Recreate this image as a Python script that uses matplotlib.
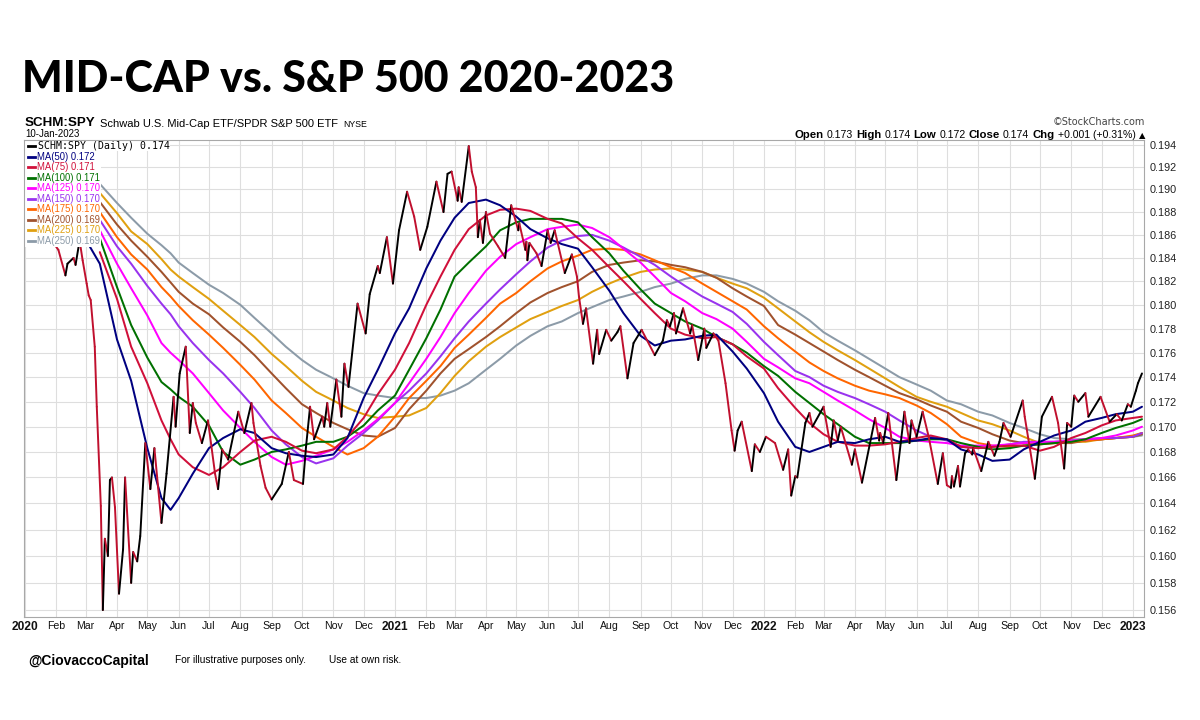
import numpy as np
import pandas as pd
import matplotlib
matplotlib.use("Agg")
import matplotlib.pyplot as plt
import matplotlib.dates as mdates
from matplotlib.collections import LineCollection
from matplotlib.lines import Line2D
from matplotlib.patches import Rectangle
from matplotlib.ticker import FixedLocator, NullLocator

plt.rcParams['font.family'] = ['Liberation Sans', 'DejaVu Sans']

# ---------------- data ----------------
title_text = "MID-CAP vs. S&P 500 2020-2023"
symbol = "SCHM:SPY"
symbol_desc = "Schwab U.S. Mid-Cap ETF/SPDR S&P 500 ETF"
exchange = "NYSE"
last_date = "10-Jan-2023"
quote_parts = [("Open", True), ("0.173", False), ("High", True), ("0.174", False),
               ("Low", True), ("0.172", False), ("Close", True), ("0.174", False),
               ("Chg", True), ("+0.001 (+0.31%)", False), ("\u25B2", False)]

price_dates = [
    "2020-01-29", "2020-02-03", "2020-02-10", "2020-02-12", "2020-02-18", "2020-02-20",
    "2020-02-24", "2020-02-27", "2020-03-02", "2020-03-04", "2020-03-06", "2020-03-10",
    "2020-03-12", "2020-03-16", "2020-03-18", "2020-03-20", "2020-03-23", "2020-03-25",
    "2020-03-27", "2020-03-30", "2020-04-03", "2020-04-07", "2020-04-09", "2020-04-15",
    "2020-04-17", "2020-04-21", "2020-04-24", "2020-04-29", "2020-05-04", "2020-05-08",
    "2020-05-15", "2020-05-20", "2020-05-27", "2020-05-29", "2020-06-02", "2020-06-08",
    "2020-06-12", "2020-06-15", "2020-06-18", "2020-06-24", "2020-06-30", "2020-07-07",
    "2020-07-10", "2020-07-14", "2020-07-20", "2020-07-30", "2020-08-05", "2020-08-12",
    "2020-08-14", "2020-08-21", "2020-08-26", "2020-09-01", "2020-09-11", "2020-09-18",
    "2020-09-23", "2020-10-02", "2020-10-05", "2020-10-09", "2020-10-13", "2020-10-21",
    "2020-10-23", "2020-10-26", "2020-10-29", "2020-11-04", "2020-11-09", "2020-11-12",
    "2020-11-16", "2020-11-25", "2020-12-03", "2020-12-07", "2020-12-15", "2020-12-17",
    "2020-12-24", "2020-12-30", "2021-01-05", "2021-01-13", "2021-01-20", "2021-01-26",
    "2021-02-02", "2021-02-11", "2021-02-18", "2021-02-22", "2021-02-26", "2021-03-04",
    "2021-03-05", "2021-03-08", "2021-03-15", "2021-03-18", "2021-03-22", "2021-03-24",
    "2021-03-26", "2021-03-29", "2021-04-01", "2021-04-05", "2021-04-13", "2021-04-20",
    "2021-04-26", "2021-05-03", "2021-05-04", "2021-05-10", "2021-05-11", "2021-05-12",
    "2021-05-14", "2021-05-21", "2021-05-26", "2021-06-01", "2021-06-04", "2021-06-08",
    "2021-06-18", "2021-06-25", "2021-06-30", "2021-07-02", "2021-07-06", "2021-07-09",
    "2021-07-16", "2021-07-20", "2021-07-22", "2021-07-29", "2021-08-03", "2021-08-09",
    "2021-08-12", "2021-08-19", "2021-08-25", "2021-09-02", "2021-09-15", "2021-09-23",
    "2021-09-27", "2021-09-30", "2021-10-04", "2021-10-06", "2021-10-13", "2021-10-20",
    "2021-10-22", "2021-10-28", "2021-11-03", "2021-11-05", "2021-11-12", "2021-11-17",
    "2021-11-24", "2021-11-30", "2021-12-03", "2021-12-06", "2021-12-10", "2021-12-20",
    "2021-12-23", "2021-12-28", "2022-01-03", "2022-01-12", "2022-01-20", "2022-01-25",
    "2022-01-28", "2022-02-01", "2022-02-03", "2022-02-11", "2022-02-15", "2022-02-18",
    "2022-03-01", "2022-03-08", "2022-03-11", "2022-03-15", "2022-03-18", "2022-03-29",
    "2022-04-01", "2022-04-08", "2022-04-21", "2022-04-25", "2022-04-26", "2022-04-29",
    "2022-05-04", "2022-05-12", "2022-05-20", "2022-05-25", "2022-05-27", "2022-06-01",
    "2022-06-07", "2022-06-13", "2022-06-22", "2022-06-27", "2022-07-01", "2022-07-05",
    "2022-07-06", "2022-07-08", "2022-07-12", "2022-07-14", "2022-07-19", "2022-07-22",
    "2022-07-26", "2022-07-27", "2022-08-04", "2022-08-11", "2022-08-17", "2022-08-22",
    "2022-08-26", "2022-09-02", "2022-09-14", "2022-09-16", "2022-09-26", "2022-10-03",
    "2022-10-13", "2022-10-19", "2022-10-25", "2022-10-28", "2022-11-01", "2022-11-04",
    "2022-11-08", "2022-11-15", "2022-11-18", "2022-11-30", "2022-12-09", "2022-12-16",
    "2022-12-21", "2022-12-27", "2022-12-30", "2023-01-04", "2023-01-06", "2023-01-10",
]
price_values = [
    0.1853, 0.1847, 0.1825, 0.1835, 0.1840, 0.1834,
    0.1855, 0.1838, 0.1818, 0.1808, 0.1804, 0.1765,
    0.1716, 0.1638, 0.1560, 0.1613, 0.1600, 0.1658,
    0.1660, 0.1637, 0.1572, 0.1605, 0.1660, 0.1580,
    0.1603, 0.1596, 0.1615, 0.1687, 0.1651, 0.1683,
    0.1625, 0.1663, 0.1724, 0.1700, 0.1743, 0.1765,
    0.1695, 0.1719, 0.1703, 0.1687, 0.1705, 0.1663,
    0.1651, 0.1682, 0.1674, 0.1712, 0.1695, 0.1719,
    0.1703, 0.1669, 0.1652, 0.1643, 0.1655, 0.1680,
    0.1658, 0.1655, 0.1684, 0.1716, 0.1690, 0.1708,
    0.1700, 0.1719, 0.1700, 0.1738, 0.1708, 0.1751,
    0.1732, 0.1801, 0.1776, 0.1809, 0.1833, 0.1827,
    0.1858, 0.1818, 0.1864, 0.1898, 0.1876, 0.1847,
    0.1867, 0.1907, 0.1880, 0.1914, 0.1916, 0.1890,
    0.1902, 0.1889, 0.1939, 0.1916, 0.1902, 0.1858,
    0.1873, 0.1853, 0.1880, 0.1861, 0.1850, 0.1840,
    0.1886, 0.1864, 0.1870, 0.1847, 0.1854, 0.1838,
    0.1853, 0.1844, 0.1833, 0.1864, 0.1853, 0.1864,
    0.1827, 0.1843, 0.1824, 0.1807, 0.1784, 0.1797,
    0.1751, 0.1779, 0.1759, 0.1779, 0.1770, 0.1777,
    0.1782, 0.1739, 0.1768, 0.1779, 0.1758, 0.1770,
    0.1787, 0.1782, 0.1793, 0.1776, 0.1797, 0.1776,
    0.1783, 0.1754, 0.1780, 0.1764, 0.1776, 0.1770,
    0.1735, 0.1697, 0.1681, 0.1697, 0.1704, 0.1665,
    0.1686, 0.1680, 0.1692, 0.1687, 0.1666, 0.1682,
    0.1646, 0.1661, 0.1660, 0.1703, 0.1711, 0.1700,
    0.1716, 0.1684, 0.1705, 0.1689, 0.1700, 0.1670,
    0.1682, 0.1656, 0.1707, 0.1689, 0.1695, 0.1687,
    0.1711, 0.1658, 0.1712, 0.1687, 0.1705, 0.1692,
    0.1712, 0.1692, 0.1655, 0.1679, 0.1654, 0.1652,
    0.1661, 0.1653, 0.1669, 0.1653, 0.1679, 0.1682,
    0.1678, 0.1683, 0.1665, 0.1688, 0.1677, 0.1688,
    0.1703, 0.1692, 0.1721, 0.1708, 0.1659, 0.1708,
    0.1724, 0.1703, 0.1667, 0.1703, 0.1700, 0.1725,
    0.1720, 0.1727, 0.1708, 0.1724, 0.1704, 0.1710,
    0.1705, 0.1718, 0.1716, 0.1729, 0.1735, 0.1743,
]

ma_dates = [
    "2020-03-01", "2020-03-15", "2020-04-01", "2020-04-15", "2020-05-01", "2020-05-15",
    "2020-05-24", "2020-06-01", "2020-06-15", "2020-07-01", "2020-07-15", "2020-08-01",
    "2020-08-15", "2020-09-01", "2020-09-15", "2020-10-01", "2020-10-15", "2020-11-01",
    "2020-11-15", "2020-12-01", "2020-12-15", "2021-01-01", "2021-01-15", "2021-02-01",
    "2021-02-15", "2021-03-01", "2021-03-15", "2021-04-01", "2021-04-15", "2021-05-01",
    "2021-05-15", "2021-06-01", "2021-06-15", "2021-07-01", "2021-07-15", "2021-08-01",
    "2021-08-15", "2021-09-01", "2021-09-15", "2021-10-01", "2021-10-15", "2021-11-01",
    "2021-11-15", "2021-12-01", "2021-12-15", "2022-01-01", "2022-01-15", "2022-02-01",
    "2022-02-15", "2022-03-01", "2022-03-15", "2022-04-01", "2022-04-15", "2022-05-01",
    "2022-05-15", "2022-06-01", "2022-06-15", "2022-07-01", "2022-07-15", "2022-08-01",
    "2022-08-15", "2022-09-01", "2022-09-15", "2022-10-01", "2022-10-15", "2022-11-01",
    "2022-11-15", "2022-12-01", "2022-12-15", "2023-01-01", "2023-01-10",
]
nan = float("nan")
ma50 = [0.1856, 0.1835, 0.1771, 0.1737, 0.1683, 0.1644,
        0.1635, 0.1644, 0.1663, 0.1683, 0.1691, 0.1698,
        0.1695, 0.1683, 0.1679, 0.1677, 0.1676, 0.1678,
        0.1691, 0.1723, 0.1746, 0.1776, 0.1797, 0.1831,
        0.1855, 0.1875, 0.1888, 0.1891, 0.1886, 0.1876,
        0.1865, 0.1857, 0.1852, 0.1848, 0.1832, 0.1812,
        0.1793, 0.1774, 0.1766, 0.1770, 0.1771, 0.1774,
        0.1775, 0.1761, 0.1747, 0.1727, 0.1704, 0.1684,
        0.1680, 0.1684, 0.1688, 0.1687, 0.1690, 0.1692,
        0.1688, 0.1689, 0.1691, 0.1690, 0.1682, 0.1678,
        0.1673, 0.1674, 0.1682, 0.1688, 0.1693, 0.1697,
        0.1704, 0.1707, 0.1710, 0.1712, 0.1716]
ma75 = [nan, 0.1845, 0.1805, 0.1765, 0.1735, 0.1705,
        0.1690, 0.1678, 0.1668, 0.1662, 0.1668, 0.1680,
        0.1689, 0.1692, 0.1688, 0.1681, 0.1679, 0.1682,
        0.1692, 0.1707, 0.1726, 0.1746, 0.1768, 0.1800,
        0.1824, 0.1847, 0.1865, 0.1877, 0.1882, 0.1883,
        0.1881, 0.1874, 0.1870, 0.1857, 0.1847, 0.1832,
        0.1820, 0.1805, 0.1793, 0.1780, 0.1775, 0.1772,
        0.1773, 0.1767, 0.1757, 0.1747, 0.1731, 0.1715,
        0.1703, 0.1694, 0.1688, 0.1685, 0.1685, 0.1686,
        0.1688, 0.1691, 0.1693, 0.1690, 0.1684, 0.1683,
        0.1684, 0.1685, 0.1685, 0.1681, 0.1684, 0.1691,
        0.1695, 0.1701, 0.1705, 0.1707, 0.1708]
ma100 = [nan, 0.1857, 0.1815, 0.1783, 0.1756, 0.1736,
         0.1730, 0.1724, 0.1716, 0.1701, 0.1680, 0.1670,
         0.1674, 0.1680, 0.1682, 0.1685, 0.1688, 0.1688,
         0.1692, 0.1701, 0.1713, 0.1725, 0.1746, 0.1772,
         0.1796, 0.1824, 0.1836, 0.1850, 0.1864, 0.1871,
         0.1874, 0.1874, 0.1874, 0.1871, 0.1858, 0.1844,
         0.1829, 0.1813, 0.1801, 0.1793, 0.1786, 0.1780,
         0.1773, 0.1767, 0.1760, 0.1749, 0.1741, 0.1728,
         0.1719, 0.1710, 0.1702, 0.1692, 0.1687, 0.1687,
         0.1687, 0.1689, 0.1690, 0.1690, 0.1687, 0.1684,
         0.1682, 0.1683, 0.1685, 0.1686, 0.1687, 0.1688,
         0.1690, 0.1695, 0.1699, 0.1703, 0.1706]
ma125 = [nan, 0.1864, 0.1835, 0.1814, 0.1791, 0.1768,
         0.1760, 0.1754, 0.1743, 0.1727, 0.1713, 0.1699,
         0.1688, 0.1676, 0.1670, 0.1673, 0.1677, 0.1682,
         0.1688, 0.1697, 0.1706, 0.1719, 0.1735, 0.1755,
         0.1773, 0.1793, 0.1810, 0.1829, 0.1841, 0.1852,
         0.1858, 0.1865, 0.1867, 0.1869, 0.1866, 0.1858,
         0.1848, 0.1836, 0.1824, 0.1810, 0.1803, 0.1793,
         0.1788, 0.1780, 0.1769, 0.1755, 0.1748, 0.1739,
         0.1735, 0.1728, 0.1721, 0.1713, 0.1706, 0.1699,
         0.1692, 0.1689, 0.1688, 0.1687, 0.1685, 0.1685,
         0.1685, 0.1686, 0.1687, 0.1688, 0.1688, 0.1689,
         0.1690, 0.1691, 0.1693, 0.1697, 0.1700]
ma150 = [nan, 0.1873, 0.1850, 0.1835, 0.1816, 0.1801,
         0.1792, 0.1782, 0.1768, 0.1754, 0.1743, 0.1728,
         0.1715, 0.1697, 0.1686, 0.1676, 0.1671, 0.1675,
         0.1685, 0.1695, 0.1705, 0.1719, 0.1729, 0.1743,
         0.1757, 0.1772, 0.1786, 0.1801, 0.1813, 0.1826,
         0.1837, 0.1849, 0.1855, 0.1859, 0.1860, 0.1855,
         0.1849, 0.1841, 0.1834, 0.1824, 0.1816, 0.1807,
         0.1801, 0.1794, 0.1784, 0.1769, 0.1758, 0.1745,
         0.1740, 0.1733, 0.1728, 0.1723, 0.1718, 0.1712,
         0.1705, 0.1697, 0.1692, 0.1689, 0.1684, 0.1683,
         0.1684, 0.1686, 0.1688, 0.1688, 0.1688, 0.1689,
         0.1690, 0.1691, 0.1691, 0.1692, 0.1695]
ma175 = [nan, 0.1880, 0.1858, 0.1843, 0.1830, 0.1815,
         0.1807, 0.1799, 0.1787, 0.1775, 0.1764, 0.1750,
         0.1738, 0.1721, 0.1711, 0.1699, 0.1692, 0.1684,
         0.1678, 0.1683, 0.1692, 0.1708, 0.1723, 0.1737,
         0.1749, 0.1764, 0.1775, 0.1789, 0.1801, 0.1810,
         0.1820, 0.1831, 0.1837, 0.1842, 0.1847, 0.1848,
         0.1847, 0.1843, 0.1838, 0.1832, 0.1827, 0.1818,
         0.1811, 0.1803, 0.1796, 0.1782, 0.1772, 0.1761,
         0.1752, 0.1745, 0.1739, 0.1733, 0.1729, 0.1726,
         0.1723, 0.1717, 0.1711, 0.1702, 0.1692, 0.1687,
         0.1685, 0.1684, 0.1685, 0.1686, 0.1687, 0.1688,
         0.1689, 0.1690, 0.1691, 0.1693, 0.1695]
ma200 = [nan, 0.1889, 0.1869, 0.1855, 0.1841, 0.1828,
         0.1819, 0.1811, 0.1801, 0.1792, 0.1781, 0.1769,
         0.1758, 0.1743, 0.1731, 0.1718, 0.1711, 0.1703,
         0.1698, 0.1693, 0.1692, 0.1699, 0.1714, 0.1729,
         0.1743, 0.1755, 0.1763, 0.1773, 0.1782, 0.1793,
         0.1802, 0.1810, 0.1815, 0.1820, 0.1828, 0.1834,
         0.1836, 0.1838, 0.1837, 0.1834, 0.1832, 0.1828,
         0.1823, 0.1814, 0.1807, 0.1799, 0.1783, 0.1775,
         0.1768, 0.1761, 0.1754, 0.1746, 0.1740, 0.1733,
         0.1727, 0.1722, 0.1717, 0.1712, 0.1704, 0.1699,
         0.1694, 0.1689, 0.1687, 0.1687, 0.1687, 0.1687,
         0.1689, 0.1690, 0.1691, 0.1692, 0.1694]
ma225 = [nan, 0.1897, 0.1879, 0.1863, 0.1852, 0.1839,
         0.1830, 0.1824, 0.1815, 0.1805, 0.1795, 0.1783,
         0.1773, 0.1759, 0.1749, 0.1737, 0.1728, 0.1721,
         0.1715, 0.1710, 0.1707, 0.1708, 0.1709, 0.1715,
         0.1727, 0.1741, 0.1753, 0.1765, 0.1773, 0.1781,
         0.1788, 0.1794, 0.1799, 0.1804, 0.1811, 0.1818,
         0.1823, 0.1828, 0.1830, 0.1831, 0.1830, 0.1828,
         0.1823, 0.1818, 0.1814, 0.1806, 0.1797, 0.1786,
         0.1777, 0.1769, 0.1762, 0.1754, 0.1747, 0.1739,
         0.1732, 0.1724, 0.1720, 0.1716, 0.1711, 0.1705,
         0.1702, 0.1697, 0.1692, 0.1687, 0.1687, 0.1688,
         0.1688, 0.1690, 0.1691, 0.1692, 0.1695]
ma250 = [nan, 0.1905, 0.1888, 0.1875, 0.1861, 0.1851,
         0.1844, 0.1836, 0.1827, 0.1817, 0.1810, 0.1800,
         0.1789, 0.1776, 0.1765, 0.1754, 0.1746, 0.1739,
         0.1733, 0.1727, 0.1725, 0.1723, 0.1723, 0.1723,
         0.1725, 0.1729, 0.1735, 0.1746, 0.1755, 0.1766,
         0.1774, 0.1782, 0.1786, 0.1793, 0.1798, 0.1804,
         0.1807, 0.1811, 0.1815, 0.1818, 0.1822, 0.1825,
         0.1825, 0.1822, 0.1818, 0.1811, 0.1803, 0.1795,
         0.1787, 0.1777, 0.1770, 0.1762, 0.1755, 0.1747,
         0.1740, 0.1734, 0.1729, 0.1721, 0.1718, 0.1712,
         0.1709, 0.1703, 0.1699, 0.1694, 0.1691, 0.1690,
         0.1690, 0.1690, 0.1691, 0.1692, 0.1693]

ma_series = [ma50, ma75, ma100, ma125, ma150, ma175, ma200, ma225, ma250]
ma_labels = ["MA(50) 0.172", "MA(75) 0.171", "MA(100) 0.171", "MA(125) 0.170",
             "MA(150) 0.170", "MA(175) 0.170", "MA(200) 0.169", "MA(225) 0.170",
             "MA(250) 0.169"]
ma_colors = ["#000080", "#d0103a", "#007000", "#ff00ff", "#9933ee",
             "#ff6600", "#a0522d", "#e0a010", "#8c9ba8"]
price_label = "SCHM:SPY (Daily) 0.174"

y_ticks = [0.156, 0.158, 0.160, 0.162, 0.164, 0.166, 0.168, 0.170, 0.172, 0.174,
           0.176, 0.178, 0.180, 0.182, 0.184, 0.186, 0.188, 0.190, 0.192, 0.194]
month_ticks = pd.date_range("2020-01-01", "2023-01-01", freq="MS")

footer_handle = "@CiovaccoCapital"
footer_note1 = "For illustrative purposes only."
footer_note2 = "Use at own risk."

# ---------------- figure ----------------
W, H = 1200, 720
fig = plt.figure(figsize=(W / 100, H / 100), dpi=100)
fig.patch.set_facecolor("white")

L, R, T, B = 24, 1144, 140, 617
ax = fig.add_axes([L / W, 1 - B / H, (R - L) / W, (B - T) / H])
ax.set_yscale("log")
ax.set_ylim(0.15549, 0.19446)
ax.set_xlim(pd.Timestamp("2019-12-31"), pd.Timestamp("2023-01-12"))

# grid
ax.yaxis.set_major_locator(FixedLocator(y_ticks))
ax.yaxis.set_minor_locator(NullLocator())
ax.set_yticklabels([f"{v:.3f}" for v in y_ticks])
ax.yaxis.tick_right()
ax.tick_params(axis="y", length=0, pad=4, labelsize=7.8, labelcolor="#222222")
ax.set_xticks(month_ticks)
ax.xaxis.set_minor_locator(NullLocator())
xlabels = [d.strftime("%Y") if d.month == 1 else d.strftime("%b") for d in month_ticks]
ax.set_xticklabels(xlabels)
for lab, d in zip(ax.get_xticklabels(), month_ticks):
    if d.month == 1:
        lab.set_fontweight("bold")
        lab.set_fontsize(8.6)
    else:
        lab.set_fontsize(7.6)
ax.tick_params(axis="x", length=0, pad=3, labelcolor="#111111")
ax.grid(True, color="#dedede", lw=0.8, zorder=0)
ax.set_axisbelow(True)
for s in ax.spines.values():
    s.set_color("#a8a8a8")
    s.set_linewidth(0.8)
    s.set_zorder(8)

# moving averages (draw slowest first)
md = pd.to_datetime(ma_dates)
for vals, c in list(zip(ma_series, ma_colors))[::-1]:
    ax.plot(md, vals, color=c, lw=1.45, zorder=3, solid_capstyle="round")

# price line: rising segments black, falling segments crimson
pxn = mdates.date2num(pd.to_datetime(price_dates))
pyv = np.array(price_values)
segs = np.stack([np.column_stack([pxn[:-1], pyv[:-1]]),
                 np.column_stack([pxn[1:], pyv[1:]])], axis=1)
cols = np.where(pyv[1:] >= pyv[:-1], "#000000", "#c0102e")
lc = LineCollection(segs, colors=cols, linewidths=1.4, zorder=4,
                    capstyle="round", joinstyle="round")
ax.add_collection(lc)

# legend block (opaque like the original)
def ax_x(px):
    return (px - L) / (R - L)

def ax_y(py):
    return (B - py) / (B - T)

ax.add_patch(Rectangle((0, ax_y(247)), ax_x(101), 1 - ax_y(247),
                       transform=ax.transAxes, facecolor="white",
                       edgecolor="none", zorder=6))
row_y = [145.7, 156.7, 167.2, 177.7, 188.3, 198.9, 209.4, 219.9, 230.4, 240.8]
labels = [price_label] + ma_labels
colors = ["#000000"] + ma_colors
for i, (lab, c, yy) in enumerate(zip(labels, colors, row_y)):
    ax.add_line(Line2D([ax_x(28), ax_x(35)], [ax_y(yy), ax_y(yy)],
                       transform=ax.transAxes, color=c, lw=2.0, zorder=7))
    if i == 0:
        ax.text(ax_x(37.5), ax_y(yy), lab, transform=ax.transAxes, fontsize=7.1,
                family=["DejaVu Sans Mono"], color=c, va="center", ha="left",
                zorder=7, bbox=dict(facecolor="white", edgecolor="none", pad=0.5))
    else:
        ax.text(ax_x(37), ax_y(yy), lab, transform=ax.transAxes, fontsize=6.85,
                color=c, va="center", ha="left", zorder=7)

# ---------------- header ----------------
title = fig.text(22 / W, 1 - 92 / H, title_text, fontsize=32, fontweight="black",
                 family=["Lato", "DejaVu Sans"], va="baseline", ha="left")
fig.canvas.draw()
tw = title.get_window_extent().width
title.set_fontsize(32 * 653 / tw)

t0 = fig.text(25 / W, 1 - 126 / H, symbol, fontsize=9.6, fontweight="bold", va="baseline")
t1 = ax.annotate(symbol_desc, xy=(1, 0), xycoords=t0, xytext=(3, 0),
                 textcoords="offset points", fontsize=8.0, va="bottom",
                 annotation_clip=False)
t2 = ax.annotate(exchange, xy=(1, 0), xycoords=t1, xytext=(4, 0),
                 textcoords="offset points", fontsize=6.3, va="bottom",
                 annotation_clip=False)
fig.text(25 / W, 1 - 134 / H, last_date, fontsize=7.0, va="center", ha="left")
fig.text(1145 / W, 1 - 122 / H, "\u00a9StockCharts.com", fontsize=7.0, color="#444444",
         va="center", ha="right", family=["DejaVu Sans"])

# quote line, chained from the right edge
prev = fig.text(1145 / W, 1 - 138 / H, quote_parts[-1][0], fontsize=6.0,
                va="baseline", ha="right", family=["DejaVu Sans"])
for txt, bold in quote_parts[-2::-1]:
    prev = ax.annotate(txt, xy=(0, 0), xycoords=prev, xytext=(-2.2, 0),
                       textcoords="offset points", ha="right", va="bottom",
                       fontsize=8.2 if bold else 7.6,
                       fontweight="bold" if bold else "normal",
                       annotation_clip=False)

# ---------------- footer ----------------
fig.text(28 / W, 1 - 661 / H, footer_handle, fontsize=10, fontweight="bold", va="center")
fig.text(175 / W, 1 - 660 / H, footer_note1, fontsize=7.3, va="center")
fig.text(329 / W, 1 - 660 / H, footer_note2, fontsize=7.3, va="center")

fig.savefig("out.png", dpi=100, facecolor="white")
